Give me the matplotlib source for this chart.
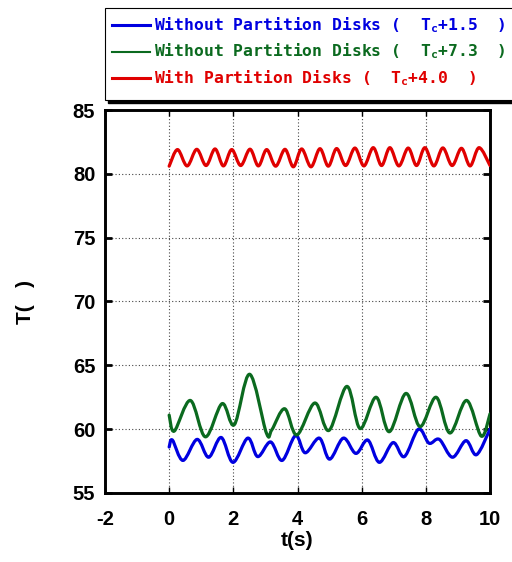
import matplotlib
matplotlib.use("Agg")
import matplotlib.pyplot as plt
from matplotlib.path import Path
from matplotlib.patches import PathPatch, Rectangle
from matplotlib.lines import Line2D

# ---- data: temperature traces (t in s, T in deg C) ----
blue_t = [0.00, 0.10, 0.43, 0.87, 1.23, 1.62, 1.99, 2.45, 2.76, 3.16, 3.52, 3.94,
          4.24, 4.68, 5.00, 5.43, 5.82, 6.19, 6.55, 6.98, 7.33, 7.77, 8.10, 8.42,
          8.83, 9.25, 9.58, 10.00]
blue_T = [58.60, 59.15, 57.55, 59.20, 57.80, 59.35, 57.40, 59.30, 57.85, 59.00, 57.55, 59.50,
          58.15, 59.30, 57.65, 59.30, 58.10, 59.15, 57.40, 58.95, 57.85, 60.00, 58.90, 59.20,
          57.80, 59.10, 58.00, 60.00]

green_t = [0.00, 0.16, 0.66, 1.13, 1.65, 2.03, 2.51, 3.03, 3.20, 3.60, 3.98, 4.54,
           4.98, 5.54, 5.95, 6.45, 6.86, 7.38, 7.82, 8.32, 8.75, 9.27, 9.73, 10.00]
green_T = [61.10, 59.85, 62.25, 59.40, 62.00, 60.35, 64.30, 59.70, 59.95, 61.60, 59.55, 62.05,
           59.90, 63.35, 60.05, 62.50, 59.80, 62.80, 60.20, 62.50, 59.70, 62.25, 59.45, 61.20]

red_t = [0.00, 0.26, 0.56, 0.86, 1.15, 1.43, 1.69, 1.95, 2.23, 2.52, 2.78, 3.04, 3.32,
         3.61, 3.87, 4.13, 4.42, 4.70, 4.96, 5.22, 5.50, 5.79, 6.07, 6.36, 6.62, 6.88,
         7.16, 7.45, 7.71, 7.97, 8.25, 8.53, 8.82, 9.11, 9.38, 9.66, 10.00]
red_T = [80.60, 81.90, 80.62, 81.92, 80.65, 81.95, 80.62, 81.90, 80.65, 81.93, 80.62, 81.90, 80.60,
         81.92, 80.55, 81.95, 80.55, 81.97, 80.60, 81.98, 80.65, 82.02, 80.62, 82.05, 80.65, 82.05,
         80.62, 82.02, 80.65, 82.05, 80.62, 82.03, 80.65, 82.00, 80.62, 82.05, 80.65]

series_labels = ["Without Partition Disks (  T$_{c}$+1.5  )",
                 "Without Partition Disks (  T$_{c}$+7.3  )",
                 "With Partition Disks (  T$_{c}$+4.0  )"]
series_colors = ["#0000e0", "#0b6a1f", "#e00000"]
legend_line_widths = [2.2, 1.5, 2.2]

x_ticks = [-2, 0, 2, 4, 6, 8, 10]
y_ticks = [55, 60, 65, 70, 75, 80, 85]

plt.rcParams["axes.unicode_minus"] = False
plt.rcParams["mathtext.fontset"] = "custom"
plt.rcParams["mathtext.rm"] = "DejaVu Sans Mono:bold"
plt.rcParams["mathtext.it"] = "DejaVu Sans Mono:bold"
plt.rcParams["mathtext.bf"] = "DejaVu Sans Mono:bold"
plt.rcParams["mathtext.sf"] = "DejaVu Sans Mono:bold"

W, H = 512, 562
fig = plt.figure(figsize=(W / 100, H / 100), dpi=100)
ax = fig.add_axes([105 / W, 1 - 493 / H, 385 / W, 383 / H])


def smooth_trace(ax, xs, ys, color, lw):
    """Draw a smooth Catmull-Rom curve through the given points."""
    n = len(xs)
    verts = [(xs[0], ys[0])]
    codes = [Path.MOVETO]
    for i in range(n - 1):
        x0, y0 = (xs[i - 1], ys[i - 1]) if i > 0 else (xs[i], ys[i])
        x1, y1 = xs[i], ys[i]
        x2, y2 = xs[i + 1], ys[i + 1]
        x3, y3 = (xs[i + 2], ys[i + 2]) if i + 2 < n else (xs[i + 1], ys[i + 1])
        c1 = (x1 + (x2 - x0) / 6.0, y1 + (y2 - y0) / 6.0)
        c2 = (x2 - (x3 - x1) / 6.0, y2 - (y3 - y1) / 6.0)
        verts += [c1, c2, (x2, y2)]
        codes += [Path.CURVE4] * 3
    patch = PathPatch(Path(verts, codes), facecolor="none", edgecolor=color,
                      lw=lw, capstyle="round", joinstyle="round", zorder=3)
    ax.add_patch(patch)


smooth_trace(ax, blue_t, blue_T, series_colors[0], 2.3)
smooth_trace(ax, green_t, green_T, series_colors[1], 2.3)
smooth_trace(ax, red_t, red_T, series_colors[2], 2.3)

ax.set_xlim(-2, 10)
ax.set_ylim(55, 85)
ax.set_xticks(x_ticks)
ax.set_yticks(y_ticks)
ax.grid(True, color="#444444", linestyle=(0, (1, 2)), linewidth=0.8)

for s in ax.spines.values():
    s.set_linewidth(2.1)
ax.tick_params(axis="y", direction="in", length=5, width=2, left=True, right=True,
               labelsize=14.5, pad=7)
ax.tick_params(axis="x", direction="in", length=4, width=1.0, top=True, bottom=True,
               labelsize=14.5, pad=12)
for lab in ax.get_xticklabels() + ax.get_yticklabels():
    lab.set_fontfamily("Liberation Sans")
    lab.set_fontweight("bold")

ax.set_xlabel("t(s)", fontsize=15, fontweight="bold", family="Liberation Sans", labelpad=2)
ax.set_ylabel("T(   )", fontsize=15, fontweight="bold", family="Liberation Sans", labelpad=27)

# ---- legend box drawn in figure pixel space ----
def fx(px):
    return px / W


def fy(py):
    return 1 - py / H


shadow = Rectangle((fx(108), fy(103)), fx(530) - fx(108), fy(11) - fy(103),
                   transform=fig.transFigure, facecolor="black", edgecolor="black", zorder=5)
box = Rectangle((fx(105), fy(100)), fx(530) - fx(105), fy(8) - fy(100),
                transform=fig.transFigure, facecolor="white", edgecolor="black", lw=0.8, zorder=6)
fig.add_artist(shadow)
fig.add_artist(box)

row_y = [25, 51.5, 78]
for label, color, lw, ry in zip(series_labels, series_colors, legend_line_widths, row_y):
    fig.add_artist(Line2D([fx(112), fx(150)], [fy(ry), fy(ry)], transform=fig.transFigure,
                          color=color, lw=lw, zorder=7))
    fig.text(fx(154), fy(ry), label, color=color, fontsize=11.8, fontweight="bold",
             family="DejaVu Sans Mono", va="center", ha="left", zorder=7)

fig.savefig("out.png", dpi=100)
